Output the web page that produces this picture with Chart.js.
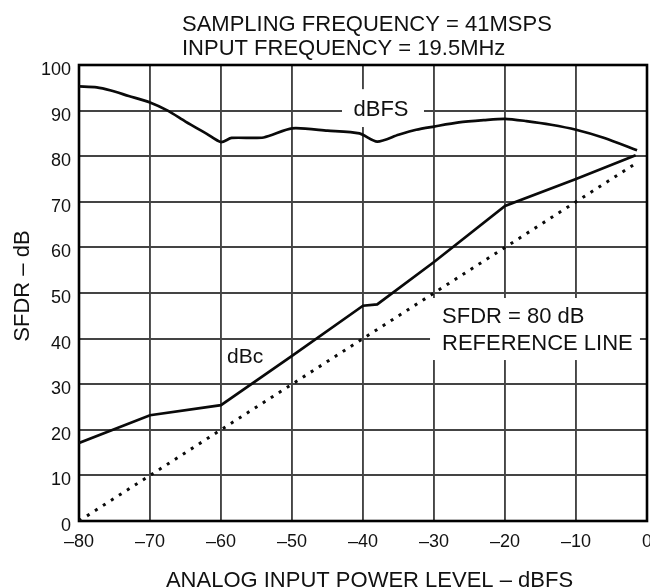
<!DOCTYPE html>
<html><head><meta charset="utf-8">
<script src="https://cdn.jsdelivr.net/npm/chart.js@4.4.1/dist/chart.umd.min.js"></script>
<style>html,body{margin:0;padding:0;background:#fff;overflow:hidden}</style>
</head><body>
<canvas id="c" width="650" height="588" style="display:block;width:650px;height:588px"></canvas>
<script>
// ---- chart content ----
const titleLines = ['SAMPLING FREQUENCY = 41MSPS', 'INPUT FREQUENCY = 19.5MHz'];
const xAxisTitle = 'ANALOG INPUT POWER LEVEL – dBFS';
const yAxisTitle = 'SFDR – dB';
const xTickValues = [-80, -70, -60, -50, -40, -30, -20, -10, 0];
const yTickValues = [0, 10, 20, 30, 40, 50, 60, 70, 80, 90, 100];

const dbfsX = [-80, -77.5, -75.5, -73, -70, -67.5, -65, -62, -60, -58.5, -54, -50, -45, -40.5, -38, -35, -32.5, -30, -26.5, -23, -20, -17, -13.5, -10, -6, -1.4];
const dbfsY = [95.3, 95.1, 94.4, 93.2, 91.8, 90.0, 87.6, 84.9, 83.1, 84.0, 84.1, 86.1, 85.6, 85.0, 83.2, 84.7, 85.8, 86.5, 87.4, 87.9, 88.2, 87.7, 86.9, 85.8, 84.0, 81.3];

const dbcX = [-80, -70, -60, -50, -40, -38, -30, -20, -10, -1.6];
const dbcY = [17.1, 23.2, 25.4, 36.2, 47.2, 47.5, 56.8, 69.1, 75.0, 80.2];

const refX = [-80, -1.5];
const refY = [0, 78.5];

const curveLabels = ['dBFS', 'dBc'];
const refLabelLines = ['SFDR = 80 dB', 'REFERENCE LINE'];

// ---- drawing ----
const FONT = '"Liberation Sans", Arial, Helvetica, sans-serif';
const INK = '#111';
const toPts = (xs, ys) => xs.map((x, i) => ({x: x, y: ys[i]}));
const fmt = v => v < 0 ? '\u2013' + Math.abs(v) : String(v);

const deco = {
  id: 'deco',
  beforeDatasetsDraw(chart) {
    const {ctx, chartArea: a, scales: {x, y}} = chart;
    const box = (x0, x1, y0, y1) => {
      const px0 = x.getPixelForValue(x0), px1 = x.getPixelForValue(x1);
      const py0 = y.getPixelForValue(y0), py1 = y.getPixelForValue(y1);
      ctx.fillRect(px0, py0, px1 - px0, py1 - py0);
    };
    ctx.save();
    ctx.fillStyle = '#fff';
    box(-42.96, -31.41, 94.7, 86.4);
    box(-30.56, -0.99, 48.9, 35.3);
    ctx.strokeStyle = '#000';
    ctx.lineWidth = 2.6;
    ctx.strokeRect(a.left, a.top, a.right - a.left, a.bottom - a.top);
    ctx.restore();
  },
  afterDraw(chart) {
    const {ctx, scales: {x, y}} = chart;
    ctx.save();
    ctx.fillStyle = INK;
    ctx.font = '22px ' + FONT;
    ctx.textBaseline = 'alphabetic';
    ctx.textAlign = 'left';
    ctx.fillText(titleLines[0], 182, 31);
    ctx.fillText(titleLines[1], 182, 55);
    ctx.textAlign = 'center';
    ctx.fillText(xAxisTitle, 369.5, 587);
    ctx.save();
    ctx.translate(28.5, 286);
    ctx.rotate(-Math.PI / 2);
    ctx.fillText(yAxisTitle, 0, 0);
    ctx.restore();
    ctx.textAlign = 'center';
    ctx.fillText(curveLabels[0], x.getPixelForValue(-37.46), y.getPixelForValue(88.9));
    ctx.font = '21px ' + FONT;
    ctx.fillText(curveLabels[1], x.getPixelForValue(-56.6), y.getPixelForValue(34.6));
    ctx.font = '22px ' + FONT;
    ctx.textAlign = 'left';
    ctx.fillText(refLabelLines[0], x.getPixelForValue(-28.87), y.getPixelForValue(43.36));
    ctx.fillText(refLabelLines[1], x.getPixelForValue(-28.87), y.getPixelForValue(37.5));
    ctx.restore();
  }
};

const lineStyle = {showLine: true, pointRadius: 0, borderColor: '#0a0a0a', borderWidth: 2.7, fill: false};

new Chart(document.getElementById('c'), {
  type: 'scatter',
  data: {
    datasets: [
      Object.assign({label: curveLabels[0], data: toPts(dbfsX, dbfsY), tension: 0.25}, lineStyle),
      Object.assign({label: curveLabels[1], data: toPts(dbcX, dbcY), tension: 0}, lineStyle),
      Object.assign({label: 'reference', data: toPts(refX, refY), tension: 0}, lineStyle,
        {borderDash: [3, 6.5], borderWidth: 3, borderColor: '#0a0a0a'})
    ]
  },
  options: {
    responsive: false,
    animation: false,
    devicePixelRatio: 1,
    layout: {padding: {top: 65, right: 3, left: 0, bottom: 0}},
    plugins: {legend: {display: false}, tooltip: {enabled: false}, title: {display: false}},
    scales: {
      x: {
        type: 'linear', min: -80, max: 0,
        afterBuildTicks: s => { s.ticks = xTickValues.map(v => ({value: v})); },
        ticks: {callback: v => fmt(v), font: {family: FONT, size: 18}, color: INK, padding: 10, maxRotation: 0, autoSkip: false},
        grid: {color: '#444', lineWidth: 1.9, drawTicks: false},
        border: {display: false},
        afterFit: s => { s.height = 67; s.paddingLeft = 0; s.paddingRight = 0; }
      },
      y: {
        type: 'linear', min: 0, max: 100,
        afterBuildTicks: s => { s.ticks = yTickValues.map(v => ({value: v})); },
        ticks: {callback: v => fmt(v), font: {family: FONT, size: 18}, color: INK, padding: 8, labelOffset: 5, autoSkip: false},
        grid: {color: '#444', lineWidth: 1.9, drawTicks: false},
        border: {display: false},
        afterFit: s => { s.width = 79; s.paddingTop = 0; s.paddingBottom = 0; }
      }
    }
  },
  plugins: [deco]
});
</script>
</body></html>
